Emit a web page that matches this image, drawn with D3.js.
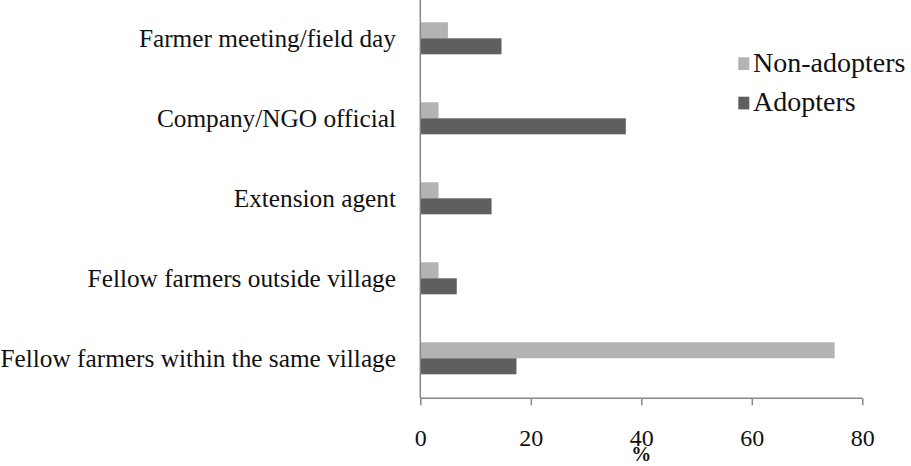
<!DOCTYPE html>
<html><head><meta charset="utf-8">
<script src="https://cdn.jsdelivr.net/npm/d3@7"></script>
<style>body{margin:0;background:#fff}svg{display:block}text{font-family:"Liberation Serif","DejaVu Serif",serif;fill:#111}</style>
</head><body><svg id="c" width="911" height="466"></svg>
<script>
const categories = ["Farmer meeting/field day","Company/NGO official","Extension agent","Fellow farmers outside village","Fellow farmers within the same village"];
const series = ["Non-adopters","Adopters"];
const nonAdopters = [5.0, 3.3, 3.3, 3.3, 75.0];
const adopters = [14.7, 37.2, 12.9, 6.6, 17.4];
const xTicks = [0,20,40,60,80];
const colors = {"Non-adopters":"#b3b3b3","Adopters":"#5f5f5f"};
const values = {"Non-adopters":nonAdopters,"Adopters":adopters};

const svg = d3.select("#c");
const x = d3.scaleLinear().domain([0,80]).range([420.3,862.3]);
const y = d3.scaleBand().domain(categories).range([-1.7,398.3]);
const ys = d3.scaleBand().domain(series).range([0,y.bandwidth()]).paddingOuter(1.5);

const g = svg.append("g");
categories.forEach((c,i)=>{
  series.forEach(s=>{
    g.append("rect").attr("x",x(0)).attr("y",y(c)+ys(s)).attr("width",x(values[s][i])-x(0)).attr("height",ys.bandwidth()).attr("fill",colors[s]);
  });
});

// axes
const xAxis = svg.append("g").attr("transform",`translate(0,${y.range()[1]})`)
  .call(d3.axisBottom(x).tickValues(xTicks).tickSize(7).tickFormat(d3.format("d")));
xAxis.select(".domain").attr("stroke","#888").attr("stroke-width",1.5).attr("d",`M${x(0)},0H${x(80)}`);
xAxis.selectAll(".tick line").attr("stroke","#888").attr("stroke-width",1.5);
xAxis.selectAll(".tick text").attr("font-size",24).attr("y",47.5).attr("dy",0).style("font-family","Liberation Serif").attr("fill","#111");

svg.append("line").attr("x1",x(0)).attr("x2",x(0)).attr("y1",0).attr("y2",y.range()[1]).attr("stroke","#888").attr("stroke-width",1.5);

svg.append("text").attr("x",x(40)).attr("y",461).attr("text-anchor","middle").attr("font-size",20).attr("font-weight","bold").text("%");

// category labels
svg.append("g").selectAll("text").data(categories).join("text")
  .attr("x",396).attr("y",d=>y(d)+y.bandwidth()/2+8.4).attr("text-anchor","end").attr("font-size",25.3).text(d=>d);

// legend
const lg = svg.append("g");
series.forEach((s,i)=>{
  lg.append("rect").attr("x",738.3).attr("y",57.3+i*39.4).attr("width",11).attr("height",12.7).attr("fill",colors[s]);
  lg.append("text").attr("x",753).attr("y",71.5+i*39.4).attr("font-size",28).text(s);
});
</script></body></html>
